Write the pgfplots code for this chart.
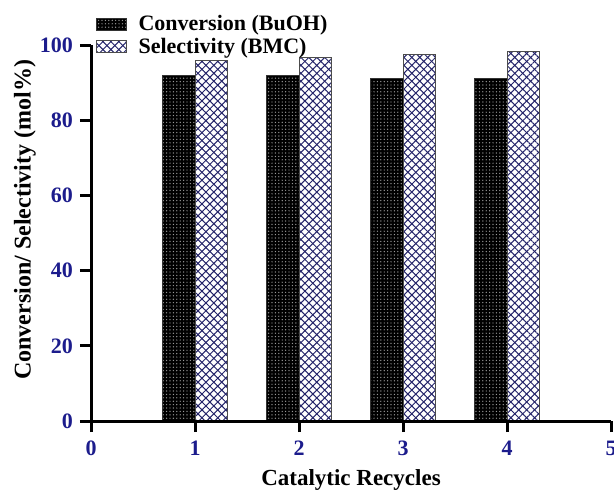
\documentclass[border=0pt]{standalone}
\usepackage{fontspec}
\setmainfont{Liberation Serif}
\usepackage{pgfplots}
\pgfplotsset{compat=1.18}
\usetikzlibrary{patterns.meta}
\definecolor{tickblue}{RGB}{28,28,140}
\definecolor{hatch}{RGB}{35,35,105}
\begin{document}
\begin{tikzpicture}
\useasboundingbox (-45.5pt,-36pt) rectangle (261.5pt,210.5pt);
\begin{axis}[
  scale only axis, width=260pt, height=188pt,
  at={(0pt,0pt)}, anchor=south west, clip=false,
  xmin=0, xmax=5, ymin=0, ymax=100,
  xtick={0,...,5}, ytick={0,20,...,100},
  axis lines=left,
  axis line style={draw=black, line width=1.5pt,-},
  tick align=outside,
  major tick style={draw=black, line width=1.5pt},
  major tick length=5.5pt,
  /pgf/number format/assume math mode=true,
  tick label style={font=\fontsize{11}{13}\selectfont\bfseries, text=tickblue},
  xticklabel style={yshift=-1pt},
  xlabel={Catalytic Recycles},
  ylabel={Conversion/ Selectivity (mol\%)},
  xlabel style={font=\fontsize{11.5}{13}\selectfont\bfseries, at={([yshift=-29.5pt]axis description cs:0.5,0)}, anchor=center},
  ylabel style={font=\fontsize{12}{14}\selectfont\bfseries, at={([xshift=-33pt]axis description cs:0,0.535)}, anchor=center},
  legend image code/.code={\draw[#1] (0pt,-3pt) rectangle (15pt,3pt); \path (19pt,0pt);},
  legend style={at={(axis description cs:0.008,1.09)}, anchor=north west, draw=none, fill=none,
    font=\fontsize{11}{13}\selectfont\bfseries, row sep=-2pt, inner sep=0pt},
  legend cell align=left,
]
\addplot[ybar, bar width=0.31, bar shift=-0.155, draw=black!80, line width=0.5pt, fill=black,
  postaction={pattern={Dots[distance=1.7pt,radius=0.35pt]}, pattern color=white!60!black}]
  coordinates {(1,91.8) (2,91.8) (3,91.1) (4,91.1)};
\addplot[ybar, bar width=0.31, bar shift=0.155, draw=black!70, line width=0.5pt, fill=white,
  postaction={pattern={Lines[angle=45,distance=2.8pt,line width=0.5pt]}, pattern color=hatch},
  postaction={pattern={Lines[angle=-45,distance=2.8pt,line width=0.5pt]}, pattern color=hatch}]
  coordinates {(1,96.0) (2,96.7) (3,97.5) (4,98.2)};
\legend{Conversion (BuOH), Selectivity (BMC)}
\pgfplotsinvokeforeach{0,1,2,3,4,5}{\coordinate (xt#1) at (axis cs:#1,0);}
\pgfplotsinvokeforeach{0,20,40,60,80,100}{\coordinate (yt#1) at (axis cs:0,#1);}
\end{axis}
% axis furniture redrawn outside the axis environment (tick marks and full-width axis lines)
\draw[black, line width=1.5pt] (yt100) -- (xt0) -- (xt5);
\foreach \k in {0,1,2,3,4,5}{\fill[black] ([xshift=-0.75pt]xt\k) rectangle ([xshift=0.75pt,yshift=-5.5pt]xt\k);}
\foreach \k in {0,20,40,60,80,100}{\fill[black] ([yshift=-0.75pt]yt\k) rectangle ([xshift=-5.5pt,yshift=0.75pt]yt\k);}
\end{tikzpicture}
\end{document}
